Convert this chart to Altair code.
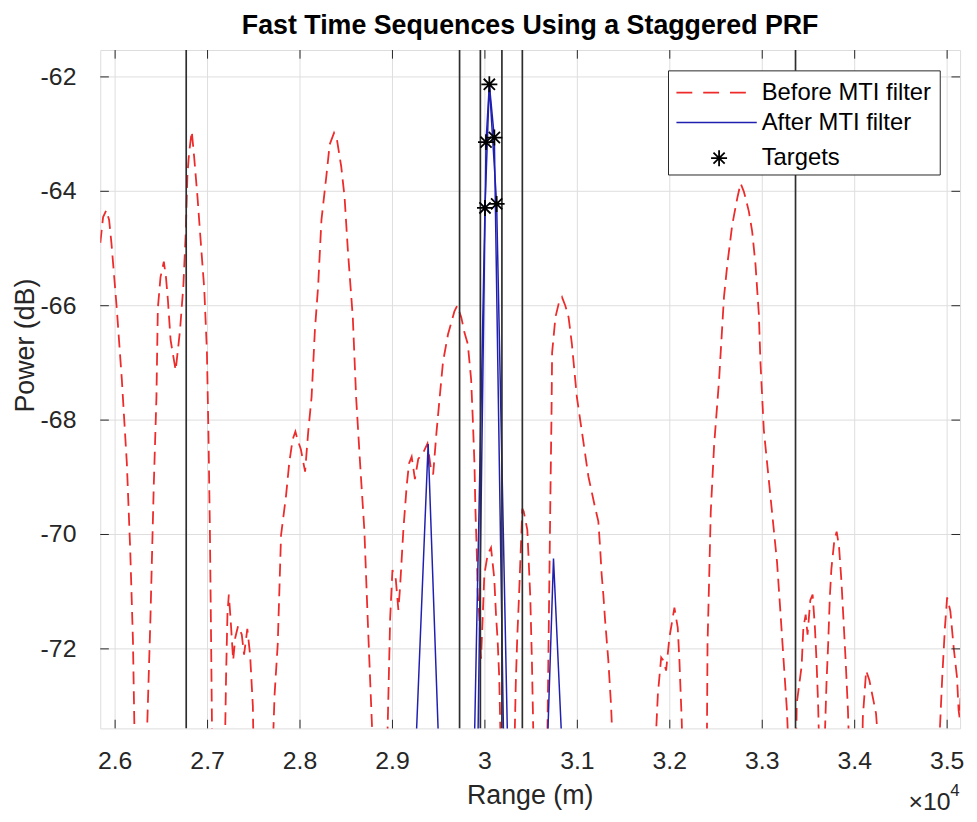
import altair as alt
import pandas as pd

# ---------------- data ----------------
red_range = [
    25840, 25870, 25905, 25935, 25960, 26018, 26073, 26127, 26164, 26193, 26215, 26275,
    26335, 26382, 26418, 26447, 26462, 26491, 26527, 26550, 26571, 26600, 26655, 26702,
    26738, 26764, 26782, 26800, 26829, 26855, 26891, 26927, 26964, 26993, 27011, 27025,
    27036, 27052, 27120,
    27185, 27200, 27215, 27230, 27250, 27277, 27300, 27330, 27370, 27395, 27430, 27460,
    27490, 27500, 27560,
    27700, 27725, 27759, 27795, 27849, 27884, 27920, 27950, 27975, 28009, 28055, 28089,
    28125, 28161, 28196, 28232, 28286, 28321, 28368, 28400, 28446, 28482, 28518, 28571,
    28607, 28650, 28696, 28732, 28760, 28795, 28870,
    28939, 28964, 28975, 29000, 29036, 29064, 29082, 29118, 29154, 29179, 29208, 29243,
    29279, 29333, 29379, 29415, 29440, 29476, 29511, 29547, 29601, 29636, 29670, 29700,
    29744, 29779, 29815, 29851, 29869, 29887, 29897, 29912, 29922, 29940, 29958, 29975,
    29994, 30030, 30066, 30101, 30120, 30138, 30155, 30175, 30245,
    30316, 30334, 30350, 30369, 30387, 30405, 30420, 30459, 30491, 30509, 30530, 30600,
    30672, 30692, 30710, 30720, 30727, 30763, 30800, 30834, 30870, 30905, 30941, 30995,
    31049, 31120, 31192, 31227, 31245, 31263, 31281, 31299, 31335, 31365, 31390, 31610,
    31836, 31871, 31907, 31930, 31960, 31996, 32050, 32086, 32104, 32129, 32140, 32270,
    32400, 32408, 32426, 32443, 32479, 32533, 32586, 32622, 32676, 32730, 32766, 32800,
    32820, 32855, 32891, 32927, 32963, 32981, 33017, 33052, 33106, 33160, 33196, 33231,
    33267, 33290, 33330,
    33365, 33373, 33426, 33445, 33470, 33490, 33520, 33545, 33570, 33587, 33605, 33620,
    33645, 33668, 33695, 33713, 33731, 33748, 33780, 33805, 33830, 33856, 33874, 33902,
    33927, 33945, 34010,
    34080, 34088, 34106, 34124, 34159, 34195, 34231, 34270, 34600,
    34905, 34947, 34976, 35000, 35035, 35071, 35107, 35124, 35135, 35150,
]
red_power = [
    -64.9, -64.45, -64.33, -64.5, -64.9, -66.05, -67.3, -68.76, -70.3, -71.86, -74.0, -77.0,
    -74.0, -71.47, -69.15, -67.6, -66.05, -65.5, -65.23, -65.5, -65.9, -66.6, -67.13, -66.43,
    -65.66, -64.73, -63.72, -63.33, -62.95, -63.4, -64.1, -64.9, -65.7, -66.8, -68.37, -69.9,
    -71.5, -74.0, -77.0,
    -74.0, -72.5, -71.4, -71.05, -71.5, -72.2, -71.8, -71.6, -71.75, -72.1, -71.65, -72.1,
    -73.0, -74.0, -77.0,
    -74.0, -72.8, -71.92, -70.01, -69.32, -68.74, -68.34, -68.2, -68.35, -68.51, -68.9, -68.2,
    -67.6, -66.43, -65.66, -64.5, -63.72, -63.18, -62.98, -63.1, -63.57, -64.1, -65.04, -66.2,
    -67.6, -68.76, -69.92, -71.47, -72.6, -74.0, -77.0,
    -74.0, -72.25, -71.47, -70.62, -70.78, -71.32, -70.93, -69.92, -69.15, -68.76, -68.64, -69.03,
    -68.68, -68.57, -68.41, -68.84, -68.95, -68.22, -67.6, -66.98, -66.5, -66.3, -66.1, -66.0,
    -66.2, -66.47, -66.67, -67.29, -67.98, -68.76, -69.53, -70.31, -71.0, -71.47, -72.17, -71.5,
    -70.7, -70.35, -70.23, -70.76, -71.4, -71.86, -72.5, -74.0, -77.0,
    -74.0, -72.6, -71.8, -71.08, -70.3, -69.55, -69.6, -69.92, -71.1, -72.25, -74.0, -77.0,
    -74.0, -71.47, -69.15, -67.98, -66.82, -66.2, -65.95, -65.85, -66.0, -66.2, -66.67, -67.6,
    -68.2, -68.99, -69.53, -69.77, -70.2, -70.7, -71.05, -71.47, -72.2, -73.0, -74.0, -77.0,
    -74.0, -72.79, -72.15, -72.2, -72.38, -71.8, -71.28, -71.63, -72.2, -73.25, -74.0, -77.0,
    -74.0, -71.92, -70.76, -69.61, -68.45, -67.3, -65.85, -65.28, -64.58, -64.12, -63.86, -64.0,
    -64.12, -64.35, -64.7, -65.28, -66.14, -67.0, -68.17, -68.74, -69.61, -70.48, -71.34, -72.2,
    -73.07, -74.0, -76.0,
    -74.0, -72.96, -72.3, -71.63, -71.4, -71.75, -71.15, -71.05, -71.63, -72.2, -73.0, -74.0,
    -76.0, -74.0, -72.6, -71.92, -71.1, -70.6, -70.1, -69.95, -70.2, -70.8, -71.34, -72.2,
    -73.07, -74.0, -77.0,
    -74.0, -73.2, -72.79, -72.38, -72.55, -72.84, -73.13, -74.0, -77.0,
    -74.0, -72.5, -71.63, -71.1, -71.34, -71.98, -72.5, -73.07, -73.2, -72.7,
]

blue_range = [29196, 29386, 29550, 29700, 29858, 30001, 30048, 30127, 30275,
              29905, 30012, 30048, 30102, 30225, 30400, 30630, 30742, 30898]
blue_power = [-76.0, -68.42, -76.0, -80.0, -76.0, -64.29, -62.13, -64.22, -76.0,
              -76.0, -63.14, -62.13, -63.06, -76.0, -80.0, -76.0, -70.42, -76.0]
blue_trace = ["a", "a", "a", "a", "a", "a", "a", "a", "a",
              "b", "b", "b", "b", "b", "b", "b", "b", "b"]

target_range = [30001, 30012, 30048, 30102, 30127]
target_power = [-64.29, -63.14, -62.13, -63.06, -64.22]

xline_range = [26769, 29726, 29951, 30184, 30405, 33360]

x_ticks = [26000, 27000, 28000, 29000, 30000, 31000, 32000, 33000, 34000, 35000]
x_tick_labels = ["2.6", "2.7", "2.8", "2.9", "3", "3.1", "3.2", "3.3", "3.4", "3.5"]
y_ticks = [-72, -70, -68, -66, -64, -62]
y_tick_labels = ["-72", "-70", "-68", "-66", "-64", "-62"]

legend_labels = ["Before MTI filter", "After MTI filter", "Targets"]
title_text = "Fast Time Sequences Using a Staggered PRF"
x_title = "Range (m)"
y_title = "Power (dB)"

# ---------------- styling ----------------
W, H = 867, 684
FONT = "Liberation Sans"
AX = "#262626"
GRID = "#dedede"
RED = "#ee2b2b"
BLUE = "#2020b0"
ASTERISK = "M0,-1L0,1M-1,0L1,0M-0.7,-0.7L0.7,0.7M-0.7,0.7L0.7,-0.7"

xscale = alt.Scale(domain=[25839, 35140], nice=False, zero=False)
yscale = alt.Scale(domain=[-73.39, -61.53], nice=False, zero=False)

red_df = pd.DataFrame({"range": red_range, "power": red_power, "idx": range(len(red_range))})
blue_df = pd.DataFrame({"range": blue_range, "power": blue_power, "trace": blue_trace,
                        "idx": range(len(blue_range))})
tgt_df = pd.DataFrame({"range": target_range, "power": target_power})
xl_df = pd.DataFrame({"range": xline_range})
xt_df = pd.DataFrame({"range": x_ticks, "label": x_tick_labels})
yt_df = pd.DataFrame({"power": y_ticks, "label": y_tick_labels})
one = pd.DataFrame({"k": [0]})

X = alt.X("range:Q", scale=xscale, axis=None)
Y = alt.Y("power:Q", scale=yscale, axis=None)

# grid lines
grid_x = alt.Chart(xt_df).mark_rule(color=GRID, strokeWidth=1).encode(x=X)
grid_y = alt.Chart(yt_df).mark_rule(color=GRID, strokeWidth=1).encode(y=Y)

red = alt.Chart(red_df).mark_line(clip=True, color=RED, strokeWidth=1.8,
                                  strokeDash=[13, 7]).encode(x=X, y=Y, order="idx:Q")

blue = alt.Chart(blue_df).mark_line(clip=True, color=BLUE, strokeWidth=1.5).encode(
    x=X, y=Y, detail="trace:N", order="idx:Q",
)

xlines = alt.Chart(xl_df).mark_rule(clip=True, color="#2e2e2e", strokeWidth=1.7).encode(x=X)

stars = alt.Chart(tgt_df).mark_point(shape=ASTERISK, size=260, filled=False, opacity=1,
                                     color="black", strokeWidth=1.8).encode(x=X, y=Y)

# tick labels (x shown under a x10^4 multiplier)
x_labels = alt.Chart(xt_df).mark_text(font=FONT, fontSize=25, color=AX, align="center",
                                      baseline="top").encode(
    x=X, y=alt.value(H + 21), text="label:N")
y_labels = alt.Chart(yt_df).mark_text(font=FONT, fontSize=25, color=AX, align="right",
                                      baseline="middle").encode(
    y=Y, x=alt.value(-24), text="label:N")

TL = 8.7
tick_bottom = alt.Chart(xt_df).mark_rule(color=AX, strokeWidth=1).encode(
    x=X, y=alt.value(H), y2=alt.value(H - TL))
tick_top = alt.Chart(xt_df).mark_rule(color=AX, strokeWidth=1).encode(
    x=X, y=alt.value(0), y2=alt.value(TL))
tick_left = alt.Chart(yt_df).mark_rule(color=AX, strokeWidth=1).encode(
    y=Y, x=alt.value(0), x2=alt.value(TL))
tick_right = alt.Chart(yt_df).mark_rule(color=AX, strokeWidth=1).encode(
    y=Y, x=alt.value(W), x2=alt.value(W - TL))

# ---------------- legend ----------------
LX0, LX1, LY0, LY1 = 573, 847, 21, 126
leg_box = alt.Chart(one).mark_rect(fill="white", stroke=AX, strokeWidth=1).encode(
    x=alt.value(LX0), x2=alt.value(LX1), y=alt.value(LY0), y2=alt.value(LY1))
leg_red = alt.Chart(one).mark_rule(color=RED, strokeWidth=1.8, strokeDash=[16, 11]).encode(
    x=alt.value(581), x2=alt.value(662), y=alt.value(43))
leg_blue = alt.Chart(one).mark_rule(color=BLUE, strokeWidth=1.5).encode(
    x=alt.value(581), x2=alt.value(662), y=alt.value(73))
leg_star = alt.Chart(one).mark_point(shape=ASTERISK, size=260, filled=False, opacity=1,
                                     color="black", strokeWidth=1.8).encode(
    x=alt.value(624), y=alt.value(109))


def leg_label(txt, ypos):
    return alt.Chart(one).mark_text(font=FONT, fontSize=24, color="black", align="left",
                                    baseline="middle").encode(
        x=alt.value(667), y=alt.value(ypos), text=alt.value(txt))


leg_t0 = leg_label(legend_labels[0], 43)
leg_t1 = leg_label(legend_labels[1], 74)
leg_t2 = leg_label(legend_labels[2], 109)

# ---------------- titles ----------------
title = alt.Chart(one).mark_text(font=FONT, fontSize=27, fontWeight="bold", color="black",
                                 align="center", baseline="alphabetic").encode(
    x=alt.value(W / 2), y=alt.value(-16), text=alt.value(title_text))
xtitle = alt.Chart(one).mark_text(font=FONT, fontSize=27, color=AX, align="center",
                                  baseline="alphabetic").encode(
    x=alt.value(W / 2), y=alt.value(760), text=alt.value(x_title))
ytitle = alt.Chart(one).mark_text(font=FONT, fontSize=27, color=AX, align="center",
                                  baseline="alphabetic", angle=270).encode(
    x=alt.value(-67), y=alt.value(298), text=alt.value(y_title))
exp_base = alt.Chart(one).mark_text(font=FONT, fontSize=25, color=AX, align="left",
                                    baseline="alphabetic").encode(
    x=alt.value(815), y=alt.value(766), text=alt.value("×10"))
exp_pow = alt.Chart(one).mark_text(font=FONT, fontSize=17, color=AX, align="left",
                                   baseline="alphabetic").encode(
    x=alt.value(857), y=alt.value(752), text=alt.value("4"))

chart = alt.layer(
    grid_x, grid_y, red, blue, xlines, stars, x_labels, y_labels,
    tick_bottom, tick_top, tick_left, tick_right,
    leg_box, leg_red, leg_blue, leg_star, leg_t0, leg_t1, leg_t2,
    title, xtitle, ytitle, exp_base, exp_pow,
).properties(
    width=W, height=H, autosize="none",
    padding={"left": 93, "top": 39, "right": 9, "bottom": 90},
).configure_view(stroke=AX, strokeWidth=1).configure(background="white")

chart.save("out.html", embed_options={"renderer": "svg", "actions": False})
